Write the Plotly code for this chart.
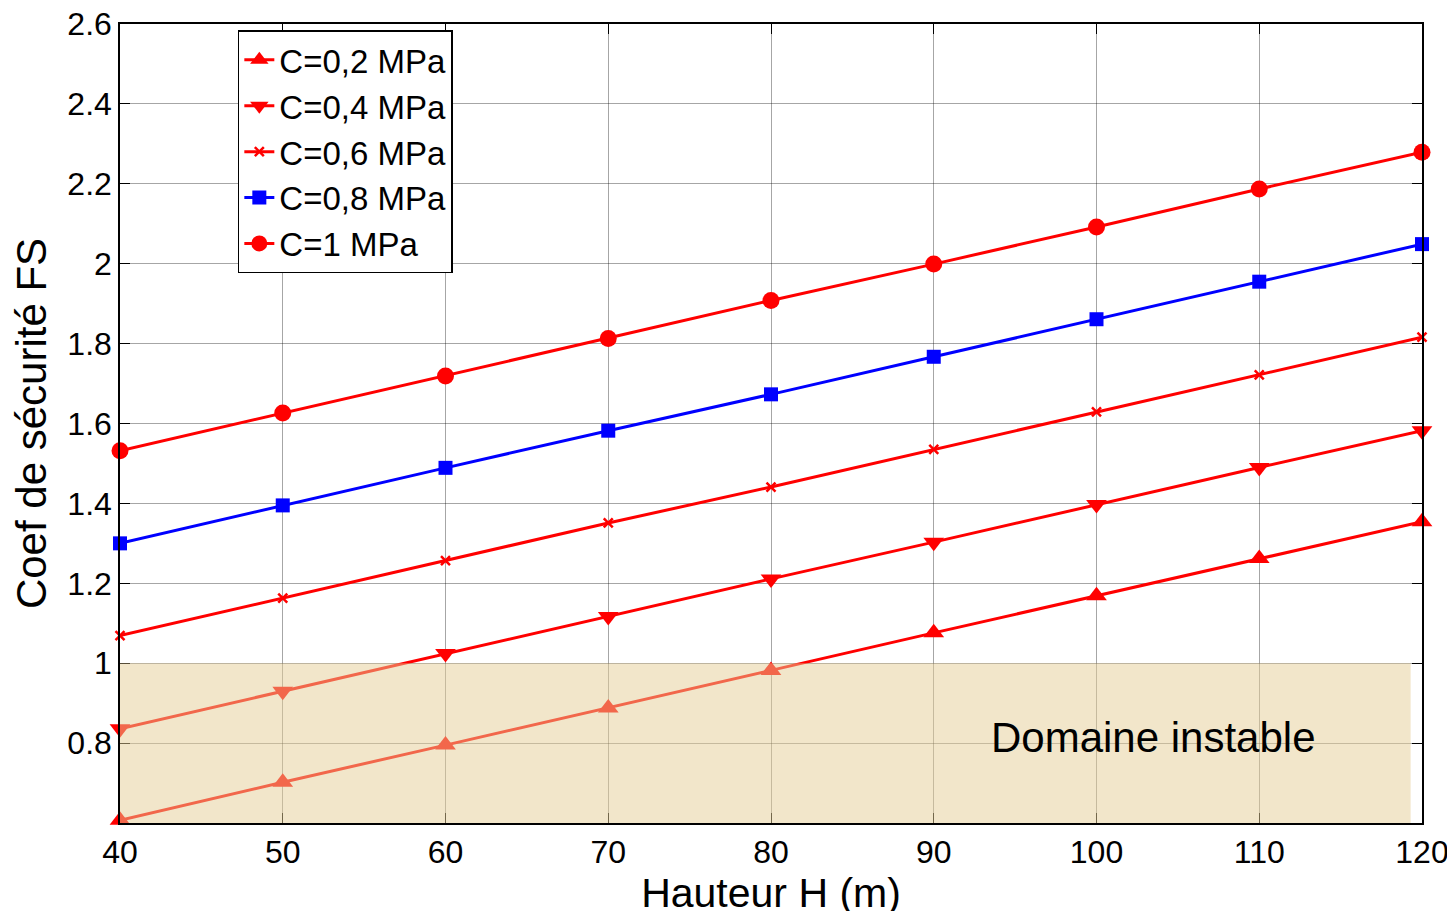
import plotly.graph_objects as go

H = [40, 50, 60, 70, 80, 90, 100, 110, 120]
fs_c02 = [0.607, 0.702, 0.795, 0.888, 0.982, 1.076, 1.169, 1.262, 1.354]
fs_c04 = [0.836, 0.930, 1.024, 1.117, 1.211, 1.303, 1.397, 1.490, 1.582]
fs_c06 = [1.069, 1.163, 1.257, 1.351, 1.441, 1.535, 1.629, 1.722, 1.816]
fs_c08 = [1.300, 1.395, 1.489, 1.582, 1.673, 1.767, 1.861, 1.955, 2.049]
fs_c10 = [1.532, 1.626, 1.719, 1.813, 1.908, 1.999, 2.092, 2.187, 2.279]

names = ["C=0,2 MPa", "C=0,4 MPa", "C=0,6 MPa", "C=0,8 MPa", "C=1 MPa"]
series = [fs_c02, fs_c04, fs_c06, fs_c08, fs_c10]
colors = ["#ff0000", "#ff0000", "#ff0000", "#0000ff", "#ff0000"]
symbols = ["triangle-up", "triangle-down", "x-thin", "square", "circle"]
sizes = [18, 18, 9, 14, 17]

unstable_x = [40, 119.3]
unstable_y = [0.6, 1.0]
yticks = [0.8, 1.0, 1.2, 1.4, 1.6, 1.8, 2.0, 2.2, 2.4, 2.6]
yticktext = ["0.8", "1", "1.2", "1.4", "1.6", "1.8", "2", "2.2", "2.4", "2.6"]
xticks = [40, 50, 60, 70, 80, 90, 100, 110, 120]

FONT = "Liberation Sans"

fig = go.Figure()
for n, s, c, sym, sz in zip(names, series, colors, symbols, sizes):
    fig.add_trace(go.Scatter(
        x=H, y=s, name=n, mode="lines+markers", legendgroup=n,
        line=dict(color=c, width=3),
        marker=dict(symbol=sym, size=sz, color=c,
                    line=dict(color=c, width=2.5 if sym == "x-thin" else 0)),
        cliponaxis=False,
    ))

fig.add_shape(type="rect", xref="x", yref="y",
              x0=unstable_x[0], x1=unstable_x[1], y0=unstable_y[0], y1=unstable_y[1],
              fillcolor="rgba(230,205,150,0.5)", line=dict(width=0),
              layer="above")

fig.add_annotation(x=103.5, y=0.815, xref="x", yref="y", text="Domaine instable",
                   showarrow=False, font=dict(family=FONT, size=42, color="black"))

axis_common = dict(showline=True, linecolor="black", linewidth=1.5, mirror="ticks",
                   ticks="inside", ticklen=10, tickcolor="black", tickwidth=1,
                   showgrid=True, gridcolor="rgba(0,0,0,0.35)", gridwidth=1,
                   zeroline=False, automargin=False, ticklabeloverflow="allow",
                   tickfont=dict(family=FONT, size=32, color="black"))

fig.update_xaxes(range=[40, 120], tickvals=xticks,
                 title=dict(text="Hauteur H (m)", standoff=0,
                            font=dict(family=FONT, size=41, color="black")),
                 **axis_common)
fig.update_yaxes(range=[0.6, 2.6], tickvals=yticks, ticktext=yticktext,
                 title=dict(text="Coef de sécurité FS", standoff=8,
                            font=dict(family=FONT, size=42, color="black")),
                 **axis_common)

fig.update_layout(
    width=1455, height=911,
    margin=dict(l=112, r=41, t=16, b=96),
    plot_bgcolor="white", paper_bgcolor="white",
    showlegend=True,
    legend=dict(x=0.0905, y=0.992, xanchor="left", yanchor="top",
                bgcolor="white", bordercolor="black", borderwidth=1.5,
                font=dict(family=FONT, size=33, color="black"),
                tracegroupgap=0, traceorder="normal"),
)

fig.write_html("out.html")
